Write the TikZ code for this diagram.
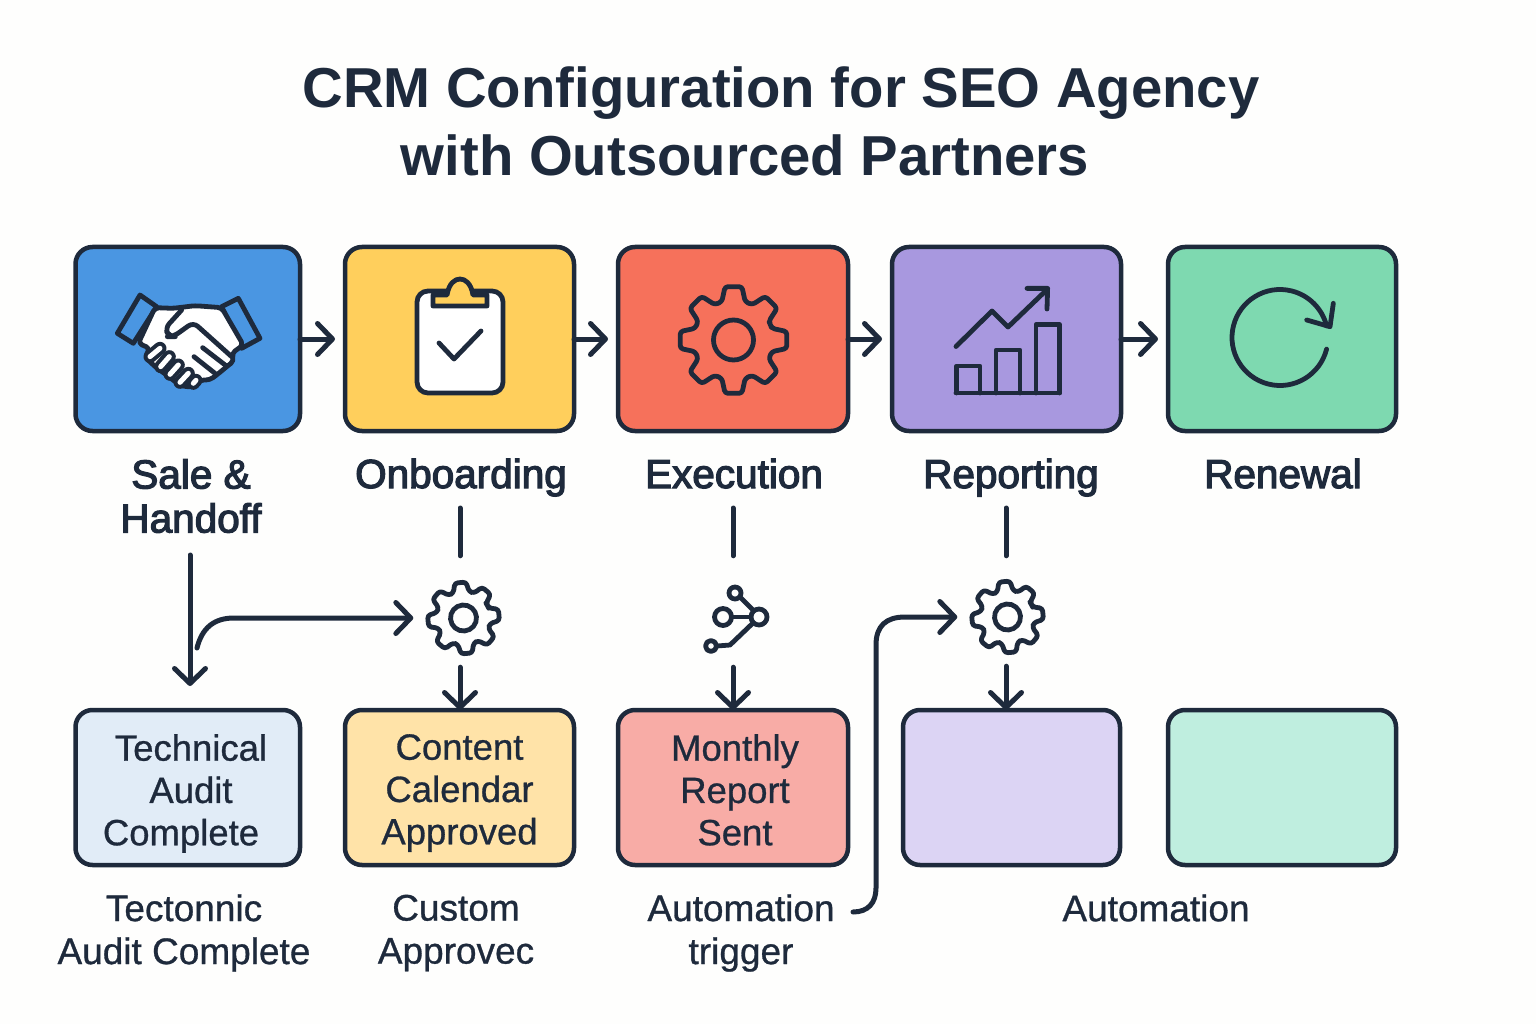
\documentclass[tikz,border=0pt]{standalone}
\usepackage{fontspec}
\setmainfont{Liberation Sans}
\usepackage{xcolor}
\definecolor{crmDark}{HTML}{1E2A3C}
\definecolor{crmPage}{HTML}{FEFEFD}
\definecolor{crmBlue}{HTML}{4A96E2}
\definecolor{crmYellow}{HTML}{FFCF5C}
\definecolor{crmRed}{HTML}{F6715B}
\definecolor{crmPurple}{HTML}{A898DF}
\definecolor{crmGreen}{HTML}{7ED9B0}
\definecolor{crmBlueLight}{HTML}{E1ECF7}
\definecolor{crmYellowLight}{HTML}{FFE3A8}
\definecolor{crmRedLight}{HTML}{F8ACA6}
\definecolor{crmPurpleLight}{HTML}{DCD4F4}
\definecolor{crmGreenLight}{HTML}{BFEEDF}
\usepackage{tikz}
\usetikzlibrary{arrows.meta,positioning,calc}
\tikzset{
    stepbox/.style={
        draw=crmDark,
        rectangle,
        rounded corners=17pt,
        line width=4.5pt,
        outer sep=0pt,
        minimum height=184pt
    },
    resultbox/.style={
        stepbox,
        minimum height=155pt
    },
    boxtext/.style={
        text=crmDark,
        align=center,
        anchor=north,
        inner sep=0pt,
        font=\fontsize{36.5}{42.3}\selectfont\addfontfeatures{FakeBold=0.8}
    },
    heading/.style={
        text=crmDark,
        inner sep=0pt,
        anchor=base,
        font=\fontsize{56.3}{66}\selectfont\bfseries
    },
    steplabel/.style={
        text=crmDark,
        align=center,
        inner sep=0pt,
        font=\fontsize{40.5}{44}\selectfont\addfontfeatures{FakeBold=3}
    },
    caption/.style={
        text=crmDark,
        align=center,
        inner sep=0pt,
        font=\fontsize{37}{43}\selectfont\addfontfeatures{FakeBold=0.8}
    },
    iconspot/.style={
        circle,
        minimum size=74pt,
        inner sep=0pt
    },
    iconline/.style={
        draw=crmDark,
        line width=4.8pt,
        line cap=round,
        line join=round
    },
    link/.style={
        line width=5pt,
        line cap=round,
        color=crmDark
    },
    arrow/.style={
        link,
        -{Straight Barb[round,length=15pt,width=31pt]}
    }
}
% center, outer radius, root radius, hole radius, rotation
\newcommand{\gearicon}[5]{%
    \begin{scope}[shift={(#1)},rotate=#5]
        \draw[iconline,rounded corners=3pt] (-22.5:#3)
            \foreach \a in {0,45,...,315} { -- (\a-17:#3) -- (\a-9:#2) -- (\a+9:#2) -- (\a+17:#3) } -- cycle;
        \draw[iconline] (0,0) circle[radius=#4];
    \end{scope}
}

\begin{document}
\begin{tikzpicture}[x=1pt,y=-1pt]
    \useasboundingbox (0,0) rectangle (1536,1024);
    \fill[crmPage] (0,0) rectangle (1536,1024);

    % Title
    \node[heading] (titleone) at (781,108) {CRM Configuration for SEO Agency};
    \node[heading] (titletwo) at (745,176) {with Outsourced Partners};

    % Stage boxes
    \node[stepbox, fill=crmBlue, minimum width=224.5pt] (saleBox) at (187.75,339) {};
    \node[stepbox, fill=crmYellow, minimum width=229pt, right=45pt of saleBox] (onboardBox) {};
    \node[stepbox, fill=crmRed, minimum width=230pt, right=44pt of onboardBox] (execBox) {};
    \node[stepbox, fill=crmPurple, minimum width=229pt, right=44pt of execBox] (reportBox) {};
    \node[stepbox, fill=crmGreen, minimum width=228pt, right=47pt of reportBox] (renewBox) {};

    % Stage labels
    \node[steplabel] (saleLabel) at (191,496) {Sale \&\\Handoff};
    \node[steplabel, anchor=base] (onboardLabel) at (461,488) {Onboarding};
    \node[steplabel, anchor=base] (execLabel) at (734,488) {Execution};
    \node[steplabel, anchor=base] (reportLabel) at (1011,488) {Reporting};
    \node[steplabel, anchor=base] (renewLabel) at (1283,488) {Renewal};

    % Handshake
    \begin{scope}[shift={(110,285)},x=.3333pt,y=-.3333pt]
        \draw[iconline, fill=crmBlue] (90,30) -- (140,65) -- (70,175) -- (22,145) -- cycle;
        \draw[iconline, fill=crmBlue] (385,40) -- (450,160) -- (395,190) -- (335,65) -- cycle;
        \draw[iconline, fill=white, rounded corners=4pt] (135,68) -- (190,70) -- (255,62) -- (335,68)
            -- (400,180) -- (365,205) -- (372,228) -- (350,245) -- (330,262) -- (300,285) -- (270,285)
            -- (250,305) -- (220,305) -- (195,290) -- (170,270) -- (135,245) -- (105,215) -- (120,190)
            -- (85,175) -- cycle;
        \draw[iconline, rounded corners=6pt] (215,75) -- (165,130) -- (178,155) -- (190,155) -- (250,112) -- (365,215);
        \draw[iconline] (278,188) -- (348,242);
        \draw[iconline] (252,215) -- (315,265);
        \foreach \fa/\fb/\fc/\fd in {150/190/120/215,178/215/152/245,205/240/180/268,235/265/210/292,258/286/250/295} {
            \draw[crmDark, line width=13pt, line cap=round] (\fa,\fb) -- (\fc,\fd);
            \draw[white, line width=5pt, line cap=round] (\fa,\fb) -- (\fc,\fd);
        }
    \end{scope}

    % Clipboard
    \draw[iconline, fill=white, rounded corners=11pt] (417,291) rectangle (503,393);
    \draw[iconline, fill=crmYellow] (433,306) -- (433,295) -- (447,295)
        .. controls (449,283) and (455,279) .. (460,279)
        .. controls (465,279) and (471,283) .. (473,295) -- (487,295) -- (487,306) -- cycle;
    \draw[iconline] (439,343) -- (454,359) -- (481,331);

    % Gear in the execution box
    \gearicon{733.5,340}{54}{40}{20}{0}

    % Chart
    \draw[iconline] (956,393) -- (1059.5,393);
    \draw[iconline] (956.5,393) -- (956.5,366) -- (980,366) -- (980,393);
    \draw[iconline] (996,393) -- (996,350) -- (1020,350) -- (1020,393);
    \draw[iconline] (1036,393) -- (1036,324.5) -- (1059.5,324.5) -- (1059.5,393);
    \draw[iconline] (956,346.5) -- (992,311) -- (1008,327) -- (1047.6,289);
    \draw[iconline] (1027,288.4) -- (1047.6,288.4) -- (1047,309);

    % Renewal
    \draw[iconline] (1280,337.5) ++(14:48) arc[start angle=14,end angle=346,radius=48];
    \draw[iconline] (1306.7,320) -- (1330,326.7) -- (1333.3,303.3);

    % Result boxes
    \node[resultbox, fill=crmBlueLight, minimum width=224.5pt, below=279pt of saleBox] (auditBox) {};
    \node[resultbox, fill=crmYellowLight, minimum width=229pt, below=279pt of onboardBox] (calendarBox) {};
    \node[resultbox, fill=crmRedLight, minimum width=230pt, below=279pt of execBox] (monthlyBox) {};
    \node[resultbox, fill=crmPurpleLight, minimum width=217pt] (emptyPurple) at (1011.5,787.5) {};
    \node[resultbox, fill=crmGreenLight, minimum width=228pt, below=279pt of renewBox] (emptyGreen) {};

    % Result box texts
    \node[boxtext] (auditText) at (191,734) {Technical\\Audit\\Complete\hspace*{20pt}};
    \node[boxtext] (calendarText) at (459.5,734) {Content\\Calendar\\Approved};
    \node[boxtext] (monthlyText) at (735,734) {Monthly\\Report\\Sent};

    % Captions
    \node[caption] (auditCaption) at (184,933) {Tectonnic\\Audit Complete};
    \node[caption] (customCaption) at (456,933) {Custom\\Approvec};
    \node[caption] (triggerCaption) at (741,933) {Automation\\trigger};
    \node[caption] (autoCaption) at (1156,908) {Automation};

    % Small icons
    \node[iconspot] (gearone) at (463.5,618) {};
    \gearicon{gearone}{36}{27}{13}{5}
    \node[iconspot] (branch) at (735,618) {};
    \node[iconspot] (geartwo) at (1007.5,617) {};
    \gearicon{geartwo}{36}{27}{13}{5}
    \draw[iconline] (723,617) circle[radius=8.5];
    \draw[iconline] (759,617) circle[radius=8];
    \draw[iconline] (735,593) circle[radius=6];
    \draw[iconline] (711,646) circle[radius=5.5];
    \draw[iconline] (732,617) -- (750,617);
    \draw[iconline] (741,598) -- (753,610);
    \draw[iconline] (717,646) -- (730,645) -- (753,623);

    % Free ends
    \coordinate (onboardStub) at (460,508);
    \coordinate (execStub) at (733,508);
    \coordinate (reportStub) at (1006,508);
    \coordinate (saleDrop) at (190,555);
    \coordinate (curveStart) at (197,648);
    \coordinate (hookStart) at (853,912);

    % Arrows
    \draw[arrow, shorten >=10pt] (saleBox) -- (onboardBox);
    \draw[arrow, shorten >=10pt] (onboardBox) -- (execBox);
    \draw[arrow, shorten >=10pt] (execBox) -- (reportBox);
    \draw[arrow, shorten >=10pt] (reportBox) -- (renewBox);
    \draw[link, shorten >=25pt] (onboardStub) -- (onboardStub |- gearone.north);
    \draw[link, shorten >=25pt] (execStub) -- (execStub |- branch.north);
    \draw[link, shorten >=24pt] (reportStub) -- (reportStub |- geartwo.north);
    \draw[arrow, shorten >=24pt] (saleDrop) -- (saleDrop |- auditBox.north);
    \draw[arrow] (curveStart) .. controls (202,628) and (214,618) .. (234,618) -- ($(gearone.west)+(-13,0)$);
    \draw[arrow, shorten <=12pt] (onboardStub |- gearone.south) -- (onboardStub |- calendarBox.north);
    \draw[arrow, shorten <=12pt] (execStub |- branch.south) -- (execStub |- monthlyBox.north);
    \draw[arrow, shorten <=12pt] (reportStub |- geartwo.south) -- (reportStub |- emptyPurple.north);
    \draw[arrow] (hookStart) .. controls (868,912) and (876,903) .. (876,888) -- (876,645)
        .. controls (876,626) and (886,617) .. (905,617) -- ($(geartwo.west)+(-13,0)$);
\end{tikzpicture}
\end{document}
